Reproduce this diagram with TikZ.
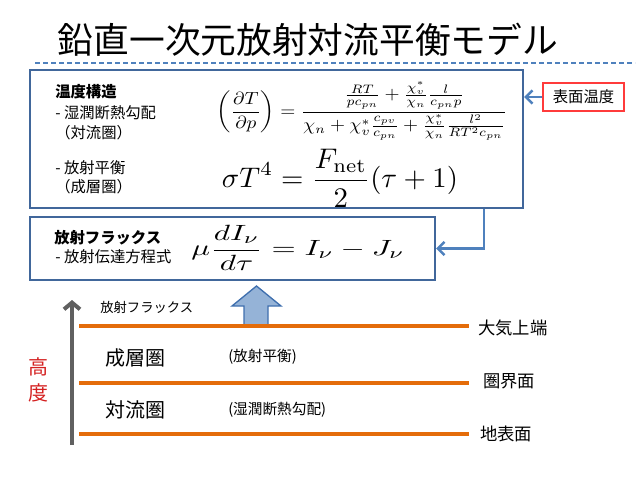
\documentclass[tikz,border=0pt]{standalone}
\usepackage{fontspec}
\usepackage{graphicx}
\newfontfamily\jp{Noto Sans CJK JP}
\usetikzlibrary{arrows.meta}
\definecolor{boxblue}{HTML}{41679B}
\definecolor{linkblue}{HTML}{4F81BD}
\definecolor{arrowedge}{HTML}{3F6FAE}
\definecolor{fillblue}{HTML}{95B3D7}
\definecolor{orangeline}{HTML}{E46C0A}
\definecolor{grayarrow}{HTML}{606060}
\definecolor{redtext}{HTML}{D42020}
\definecolor{redbox}{HTML}{FF3B3B}
\begin{document}
\begin{tikzpicture}[x=0.75pt,y=-0.75pt,
  panel/.style={draw=boxblue,line width=1.8pt,inner sep=0pt},
  lbl/.style={anchor=west,inner sep=0pt,font=\jp\fontsize{11.5}{13}\selectfont},
  lblb/.style={lbl,font=\jp\bfseries\fontsize{11.5}{13}\selectfont},
  eqn/.style={inner sep=0pt},
  link/.style={draw=linkblue,line width=1.8pt,-{Straight Barb[length=5pt,width=10pt]}},
  level/.style={draw=orangeline,line width=2.6pt},
  lvllbl/.style={anchor=west,inner sep=0pt,font=\jp\fontsize{13}{15}\selectfont},
  layer/.style={anchor=west,inner sep=0pt,font=\jp\fontsize{15}{17}\selectfont},
  note/.style={anchor=west,inner sep=0pt,font=\jp\fontsize{11}{13}\selectfont}]
\useasboundingbox (0,0) rectangle (640,480);

% title
\node[inner sep=0pt,font=\jp\fontsize{26.8}{30}\selectfont] (title) at (308,40) {鉛直一次元放射対流平衡モデル};
\coordinate (dl) at (35,63);
\coordinate (dr) at (635,63);
\draw[linkblue,line width=1.5pt,dash pattern=on 4pt off 2pt] (dl) -- (dr);

% top panel
\node[panel,minimum width=369.75pt,minimum height=103.5pt] (topbox) at (276.5,139) {};
\node[lblb] (t1) at (55,92) {温度構造};
\node[lbl] (t2) at (55,113) {- 湿潤断熱勾配};
\node[lbl] (t3) at (55,133) {（対流圏）};
\node[lbl] (t4) at (55,168) {- 放射平衡};
\node[lbl] (t5) at (55,187) {（成層圏）};
\node[eqn] (eq1) at (362,111) {\resizebox*{218pt}{44pt}{$\displaystyle
  \left(\frac{\partial T}{\partial p}\right)=
  \frac{\frac{RT}{pc_{pn}}+\frac{\chi_v^*}{\chi_n}\frac{l}{c_{pn}p}}
       {\chi_n+\chi_v^*\frac{c_{pv}}{c_{pn}}+\frac{\chi_v^*}{\chi_n}\frac{l^2}{RT^2c_{pn}}}$}};
\node[eqn] (eq2) at (340,178) {\resizebox*{177pt}{43.5pt}{$\displaystyle
  \sigma T^4=\frac{F_{\mathrm{net}}}{2}(\tau+1)$}};

% surface temperature box
\node[draw=redbox,line width=1.3pt,minimum width=60.75pt,minimum height=21pt,inner sep=0pt,
  font=\jp\fontsize{11.5}{13}\selectfont] (sfc) at (583.5,97) {表面温度};
\draw[link] (sfc.west) -- (sfc.west -| topbox.east);

% flux panel
\node[panel,minimum width=303.75pt,minimum height=47.25pt] (fluxbox) at (232.5,248.5) {};
\node[lblb] (f1) at (54,238) {放射フラックス};
\node[lbl] (f2) at (55,257) {- 放射伝達方程式};
\node[eqn] (eq3) at (298,248) {\resizebox*{160pt}{34pt}{$\displaystyle
  \mu\frac{dI_\nu}{d\tau}=I_\nu-J_\nu$}};

\draw[link] ([xshift=-30pt]topbox.south east) |- (fluxbox.east);

% block arrow
\draw[draw=arrowedge,fill=fillblue,line width=1pt,line join=miter]
  (244,326) -- (244,306) -- (232,306) -- (256.5,286) -- (281,306) -- (268,306) -- (268,326);

% levels
\coordinate (a0) at (79,326); \coordinate (a1) at (469,326);
\coordinate (b0) at (79,383); \coordinate (b1) at (469,383);
\coordinate (c0) at (79,434); \coordinate (c1) at (469,434);
\draw[level] (a0) -- (a1);
\draw[level] (b0) -- (b1);
\draw[level] (c0) -- (c1);
\node[lvllbl] (toa) at (478,328) {大気上端};
\node[lvllbl] (tp) at (483,381) {圏界面};
\node[lvllbl] (gs) at (480,434) {地表面};

% height axis
\coordinate (h0) at (72,445);
\coordinate (h1) at (72,300);
\draw[grayarrow,line width=3pt,-{Straight Barb[length=5pt,width=12pt]}] (h0) -- (h1);
\node[inner sep=0pt,text=redtext,font=\jp\fontsize{15}{20}\selectfont,align=center] (alt) at (38,380) {高\\度};

\node[note,font=\jp\fontsize{10}{12}\selectfont] (fl) at (100,307) {放射フラックス};
\node[layer] (strat) at (105,358) {成層圏};
\node[layer] (trop) at (105,410) {対流圏};
\node[note] (rad) at (228,357) {(放射平衡)};
\node[note] (moist) at (228,410) {(湿潤断熱勾配)};
\end{tikzpicture}
\end{document}
